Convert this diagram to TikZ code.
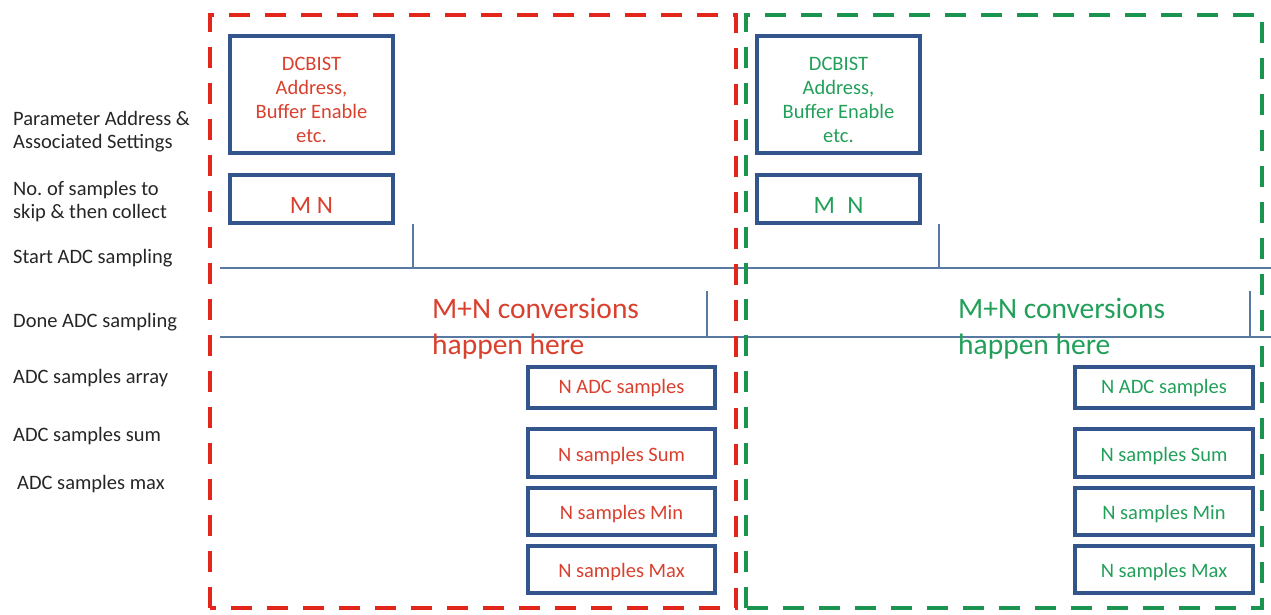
\documentclass[tikz,border=0pt]{standalone}
\usepackage{fontspec}
\setmainfont{Carlito}
\definecolor{dred}{HTML}{E3261B}
\definecolor{dgreen}{HTML}{1B9450}
\definecolor{tred}{HTML}{D9402E}
\definecolor{tgreen}{HTML}{22A05A}
\definecolor{bblue}{HTML}{34558B}
\definecolor{lblue}{HTML}{5779A2}
\newcommand{\shiftdn}[2]{\raisebox{-#1}[\height][\depth]{#2}}
\begin{document}
\begin{tikzpicture}[x=1pt,y=-1pt,
  lab/.style={anchor=base west,align=left,inner sep=0pt,font=\fontsize{20.5}{23}\selectfont,text=black!85},
  box/.style={draw=bblue,line width=4pt,inner sep=0pt,align=center,font=\fontsize{20.5}{24}\selectfont},
  frame/.style={line width=4pt,dash pattern=on 21pt off 15pt},
  sig/.style={draw=lblue,line width=1.6pt},
  big/.style={anchor=base west,align=left,inner sep=0pt,font=\fontsize{29.5}{36}\selectfont}]
\useasboundingbox (0,0) rectangle (1271,614);
% left labels (base = last line)
\node[lab] (l1) at (13,148) {Parameter Address \&\\Associated Settings};
\node[lab] (l2) at (13,218) {No.\ of samples to\\skip \& then collect};
\node[lab] (l3) at (13,263) {Start ADC sampling};
\node[lab] (l4) at (13,327) {Done ADC sampling};
\node[lab] (l5) at (13,383) {ADC samples array};
\node[lab] (l6) at (13,441) {ADC samples sum};
\node[lab] (l7) at (17,489) {ADC samples max};
% timing lines
\coordinate (s0) at (220,268); \coordinate (s1) at (1271,268);
\coordinate (d0) at (220,337); \coordinate (d1) at (1271,337);
\draw[sig] (s0) -- (s1);
\draw[sig] (d0) -- (d1);
\coordinate (rt1) at (413,224); \coordinate (rt1b) at (413,268);
\coordinate (gt1) at (939,224); \coordinate (gt1b) at (939,268);
\coordinate (rt2) at (707,291); \coordinate (rt2b) at (707,337);
\coordinate (gt2) at (1250,291); \coordinate (gt2b) at (1250,337);
\draw[sig] (rt1) -- (rt1b);
\draw[sig] (gt1) -- (gt1b);
\draw[sig] (rt2) -- (rt2b);
\draw[sig] (gt2) -- (gt2b);
% red group
\node[box,text=tred,minimum width=163pt,minimum height=117pt] (ra) at (311.5,94.5) {\shiftdn{5pt}{\parbox{150pt}{\centering DCBIST\\Address,\\Buffer Enable\\etc.}}};
\node[box,text=tred,minimum width=163pt,minimum height=48pt,font=\fontsize{25}{28}\selectfont] (rm) at (311.5,199) {\shiftdn{6pt}{M N}};
\node[big,text=tred] (rc) at (432,354) {M+N conversions\\happen here};
\node[box,text=tred,minimum width=187pt,minimum height=41pt] (rs1) at (621.5,387.5) {\shiftdn{1pt}{N ADC samples}};
\node[box,text=tred,minimum width=187pt,minimum height=48pt] (rs2) at (621.5,453) {\shiftdn{3pt}{N samples Sum}};
\node[box,text=tred,minimum width=187pt,minimum height=47pt] (rs3) at (621.5,511.5) {\shiftdn{3pt}{N samples Min}};
\node[box,text=tred,minimum width=187pt,minimum height=47pt] (rs4) at (621.5,569.5) {\shiftdn{3pt}{N samples Max}};
% green group
\node[box,text=tgreen,minimum width=163pt,minimum height=117pt] (ga) at (838.5,94.5) {\shiftdn{5pt}{\parbox{150pt}{\centering DCBIST\\Address,\\Buffer Enable\\etc.}}};
\node[box,text=tgreen,minimum width=163pt,minimum height=48pt,font=\fontsize{25}{28}\selectfont] (gm) at (838.5,199) {\shiftdn{6pt}{M\hspace{0.5em}N}};
\node[big,text=tgreen] (gc) at (958,354) {M+N conversions\\happen here};
\node[box,text=tgreen,minimum width=178pt,minimum height=41pt] (gs1) at (1164,387.5) {\shiftdn{1pt}{N ADC samples}};
\node[box,text=tgreen,minimum width=178pt,minimum height=48pt] (gs2) at (1164,453) {\shiftdn{3pt}{N samples Sum}};
\node[box,text=tgreen,minimum width=178pt,minimum height=47pt] (gs3) at (1164,511.5) {\shiftdn{3pt}{N samples Min}};
\node[box,text=tgreen,minimum width=178pt,minimum height=47pt] (gs4) at (1164,569.5) {\shiftdn{3pt}{N samples Max}};
% dashed frames
\draw[frame,draw=dred] (210,608) -- (210,15) -- (736,15) -- (736,608) -- cycle;
\draw[frame,draw=dgreen] (746,608) -- (746,15) -- (1262,15) -- (1262,608) -- cycle;
\end{tikzpicture}
\end{document}
